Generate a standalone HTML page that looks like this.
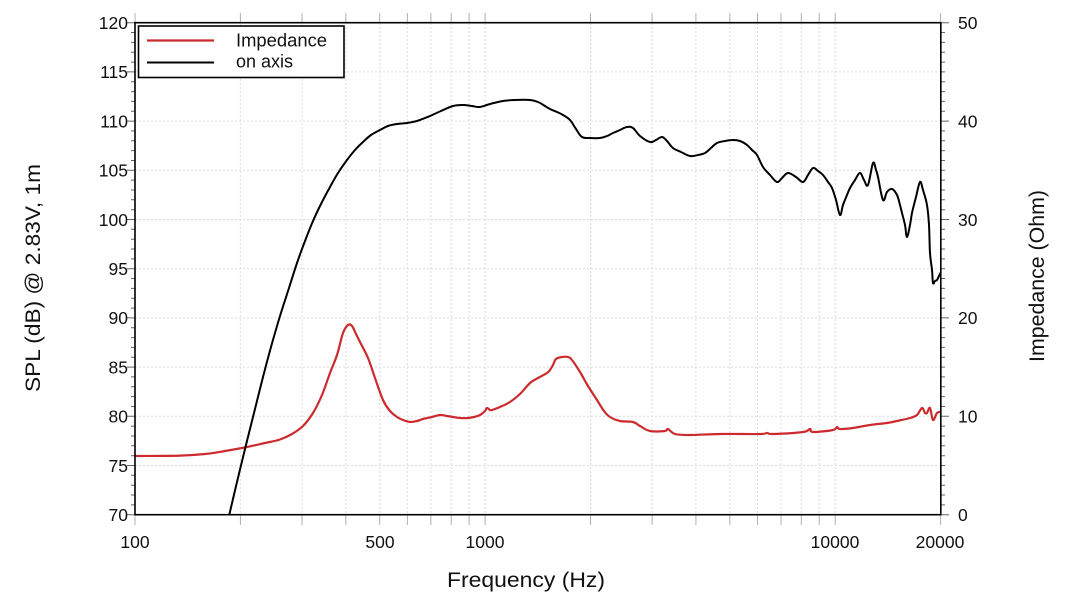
<!DOCTYPE html>
<html>
<head>
<meta charset="utf-8">
<style>
  html,body{margin:0;padding:0;background:#fff;}
  svg{display:block;}
  text{font-family:"Liberation Sans","DejaVu Sans",sans-serif;fill:#111;}
</style>
</head>
<body>
<svg id="chart" width="1070" height="605" viewBox="0 0 1070 605" xmlns="http://www.w3.org/2000/svg">
  <rect x="0" y="0" width="1070" height="605" fill="#fff"/>

  <!-- vertical grid -->
  <g stroke="#dcdcdc" stroke-width="1" stroke-dasharray="2,2">
    <line x1="240.4" y1="23" x2="240.4" y2="515"/>
    <line x1="302.0" y1="23" x2="302.0" y2="515"/>
    <line x1="345.8" y1="23" x2="345.8" y2="515"/>
    <line x1="379.7" y1="23" x2="379.7" y2="515"/>
    <line x1="407.4" y1="23" x2="407.4" y2="515"/>
    <line x1="430.9" y1="23" x2="430.9" y2="515"/>
    <line x1="451.2" y1="23" x2="451.2" y2="515"/>
    <line x1="469.1" y1="23" x2="469.1" y2="515"/>
    <line x1="485.1" y1="23" x2="485.1" y2="515"/>
    <line x1="590.5" y1="23" x2="590.5" y2="515"/>
    <line x1="652.1" y1="23" x2="652.1" y2="515"/>
    <line x1="695.9" y1="23" x2="695.9" y2="515"/>
    <line x1="729.8" y1="23" x2="729.8" y2="515"/>
    <line x1="757.5" y1="23" x2="757.5" y2="515"/>
    <line x1="781.0" y1="23" x2="781.0" y2="515"/>
    <line x1="801.3" y1="23" x2="801.3" y2="515"/>
    <line x1="819.2" y1="23" x2="819.2" y2="515"/>
    <line x1="835.2" y1="23" x2="835.2" y2="515"/>
  </g>
  <!-- horizontal grid -->
  <g stroke="#dcdcdc" stroke-width="1" stroke-dasharray="2,2">
    <line x1="135" y1="71.9" x2="941" y2="71.9"/>
    <line x1="135" y1="121.1" x2="941" y2="121.1"/>
    <line x1="135" y1="170.3" x2="941" y2="170.3"/>
    <line x1="135" y1="219.5" x2="941" y2="219.5"/>
    <line x1="135" y1="268.7" x2="941" y2="268.7"/>
    <line x1="135" y1="317.9" x2="941" y2="317.9"/>
    <line x1="135" y1="367.1" x2="941" y2="367.1"/>
    <line x1="135" y1="416.3" x2="941" y2="416.3"/>
    <line x1="135" y1="465.5" x2="941" y2="465.5"/>
  </g>

  <!-- x ticks outside (bottom & top) -->
  <g stroke="#b0b0b0" stroke-width="1">
    <path d="M135,515v10 M240.4,515v10 M302,515v10 M345.8,515v10 M379.7,515v10 M407.4,515v10 M430.9,515v10 M451.2,515v10 M469.1,515v10 M485.1,515v10 M590.5,515v10 M652.1,515v10 M695.9,515v10 M729.8,515v10 M757.5,515v10 M781,515v10 M801.3,515v10 M819.2,515v10 M835.2,515v10 M940.6,515v10"/>
    <path d="M135,13v10 M240.4,13v10 M302,13v10 M345.8,13v10 M379.7,13v10 M407.4,13v10 M430.9,13v10 M451.2,13v10 M469.1,13v10 M485.1,13v10 M590.5,13v10 M652.1,13v10 M695.9,13v10 M729.8,13v10 M757.5,13v10 M781,13v10 M801.3,13v10 M819.2,13v10 M835.2,13v10 M940.6,13v10"/>
  </g>

  <!-- left axis ticks -->
  <g stroke="#666" stroke-width="1">
    <path d="M127,22.7h8 M127,71.9h8 M127,121.1h8 M127,170.3h8 M127,219.5h8 M127,268.7h8 M127,317.9h8 M127,367.1h8 M127,416.3h8 M127,465.5h8 M127,514.7h8"/>
    <path d="M131,32.5h4 M131,42.4h4 M131,52.2h4 M131,62.1h4 M131,81.7h4 M131,91.6h4 M131,101.4h4 M131,111.3h4 M131,130.9h4 M131,140.8h4 M131,150.6h4 M131,160.5h4 M131,180.1h4 M131,190.0h4 M131,199.8h4 M131,209.7h4 M131,229.3h4 M131,239.2h4 M131,249.0h4 M131,258.9h4 M131,278.5h4 M131,288.4h4 M131,298.2h4 M131,308.1h4 M131,327.7h4 M131,337.6h4 M131,347.4h4 M131,357.3h4 M131,376.9h4 M131,386.8h4 M131,396.6h4 M131,406.5h4 M131,426.1h4 M131,436.0h4 M131,445.8h4 M131,455.7h4 M131,475.3h4 M131,485.2h4 M131,495.0h4 M131,504.9h4"/>
  </g>
  <!-- right axis ticks -->
  <g stroke="#666" stroke-width="1">
    <path d="M941,22.7h8 M941,121.1h8 M941,219.5h8 M941,317.9h8 M941,416.3h8 M941,514.7h8"/>
    <path d="M941,32.5h4 M941,42.4h4 M941,52.2h4 M941,62.1h4 M941,71.9h4 M941,81.7h4 M941,91.6h4 M941,101.4h4 M941,111.3h4 M941,130.9h4 M941,140.8h4 M941,150.6h4 M941,160.5h4 M941,170.3h4 M941,180.1h4 M941,190.0h4 M941,199.8h4 M941,209.7h4 M941,229.3h4 M941,239.2h4 M941,249.0h4 M941,258.9h4 M941,268.7h4 M941,278.5h4 M941,288.4h4 M941,298.2h4 M941,308.1h4 M941,327.7h4 M941,337.6h4 M941,347.4h4 M941,357.3h4 M941,367.1h4 M941,376.9h4 M941,386.8h4 M941,396.6h4 M941,406.5h4 M941,426.1h4 M941,436.0h4 M941,445.8h4 M941,455.7h4 M941,465.5h4 M941,475.3h4 M941,485.2h4 M941,495.0h4 M941,504.9h4"/>
  </g>

  <!-- data -->
  <defs><clipPath id="pc"><rect x="135" y="22.7" width="806" height="492.5"/></clipPath></defs>
  <g id="series" clip-path="url(#pc)" fill="none" stroke-linejoin="round" stroke-linecap="round">
    <polyline class="sm" stroke="#cc2a2e" stroke-width="2.2" points="135,456 180,455.6 205,454 225,451 247,447 265,443 280,439.5 292,434 303,426 313,413 322,395 330,373 337,355 343,333 348,325 352,326 356,334 360,342 368,358 375,378 383,400 390,411 397,417 403,420 410,422 417,421 423,419 432,417 440,415 447,416 453,417 460,418 468,418 474,417 480,415 485,411 487,408 490,410 492,410 500,407 510,402 520,394 530,383 538,378 547,373 550,370 553,365 556,359 562,357 568,357 572,360 580,372 588,386 597,400 604,411 610,417 620,421 633,422 640,426 650,431 665,431 668,429 675,434 690,435 720,434 760,434 767,433 773,434 803,432 810,429 813,432 833,430 837,427 840,429 853,428 870,425 887,423 897,421 910,418 917,415 922,408 925,413 927,413 930,408 933,420 937,413 941,412"/>
    <polyline class="sm" stroke="#000" stroke-width="2" points="229,516 237,482 245,449 254,413 263,377 271,347 280,316 289,288 297,263 305,241 313,221 321,204 330,187 338,173 347,160 355,150 363,142 371,135 380,130 388,126 397,124 407,123 417,121 425,118 430,116 441,111 453,106 463,105 472,106 480,107 490,104 503,101 515,100 530,100 538,102 545,106 550,109 557,112 563,115 570,120 576,129 582,137 590,138 600,138 607,136 613,133 620,130 627,127 633,128 640,136 650,142 656,140 662,137 667,141 673,148 681,152 690,156 698,155 705,153 711,148 717,143 725,141 733,140 740,141 747,145 752,150 757,155 763,167 770,175 777,182 782,178 788,173 796,177 803,182 808,175 813,168 818,171 823,175 828,182 832,188 836,200 840,215 843,205 847,195 850,188 855,180 860,173 864,180 868,185 873,163 876,170 878,177 883,200 887,192 892,189 897,195 900,205 902,213 905,225 907,237 910,225 912,213 916,197 920,182 923,190 927,205 929,225 930,253 932,270 933,283 935,281 937,280 939,276 941,272"/>
  </g>

  <!-- frame -->
  <rect x="135" y="22.7" width="805.8" height="492" fill="none" stroke="#000" stroke-width="1.6"/>

  <!-- legend -->
  <rect x="138.5" y="26" width="205.5" height="51.5" fill="#fff" stroke="#000" stroke-width="1.6"/>
  <line x1="147" y1="40.5" x2="214" y2="40.5" stroke="#cc2a2e" stroke-width="2.2"/>
  <line x1="147" y1="62.5" x2="214" y2="62.5" stroke="#000" stroke-width="2"/>
  <text x="236" y="46.5" font-size="18" textLength="91" lengthAdjust="spacingAndGlyphs">Impedance</text>
  <text x="236" y="67.5" font-size="18">on axis</text>

  <!-- left tick labels -->
  <g font-size="17.5" text-anchor="end">
    <text x="128" y="29">120</text>
    <text x="128" y="78.2">115</text>
    <text x="128" y="127.4">110</text>
    <text x="128" y="176.6">105</text>
    <text x="128" y="225.8">100</text>
    <text x="128" y="275">95</text>
    <text x="128" y="324.2">90</text>
    <text x="128" y="373.4">85</text>
    <text x="128" y="422.6">80</text>
    <text x="128" y="471.8">75</text>
    <text x="128" y="521">70</text>
  </g>
  <!-- right tick labels -->
  <g font-size="17.5" text-anchor="start">
    <text x="958" y="29">50</text>
    <text x="958" y="127.4">40</text>
    <text x="958" y="225.8">30</text>
    <text x="958" y="324.2">20</text>
    <text x="958" y="422.6">10</text>
    <text x="958" y="521">0</text>
  </g>
  <!-- x tick labels -->
  <g font-size="17.5" text-anchor="middle">
    <text x="135" y="548">100</text>
    <text x="380" y="548">500</text>
    <text x="485" y="548">1000</text>
    <text x="835" y="548">10000</text>
    <text x="940" y="548">20000</text>
  </g>

  <!-- axis titles -->
  <text x="526" y="587" font-size="21" text-anchor="middle" textLength="158" lengthAdjust="spacingAndGlyphs">Frequency (Hz)</text>
  <text transform="translate(40,278) rotate(-90)" font-size="21" text-anchor="middle" textLength="228" lengthAdjust="spacingAndGlyphs">SPL (dB) @ 2.83V, 1m</text>
  <text transform="translate(1044,276) rotate(-90)" font-size="21" text-anchor="middle" textLength="172" lengthAdjust="spacingAndGlyphs">Impedance (Ohm)</text>
</svg>
<script>
(function(){
  try{
    var NS="http://www.w3.org/2000/svg";
    var pls=document.querySelectorAll("polyline.sm");
    for(var i=0;i<pls.length;i++){
      var pl=pls[i];
      var pts=pl.getAttribute("points").trim().split(/\s+/).map(function(s){var a=s.split(",");return [parseFloat(a[0]),parseFloat(a[1])];});
      if(pts.length<3) continue;
      var d="M"+pts[0][0]+","+pts[0][1];
      for(var k=0;k<pts.length-1;k++){
        var p0=pts[k>0?k-1:0],p1=pts[k],p2=pts[k+1],p3=pts[k+2<pts.length?k+2:k+1];
        var t=0.18;
        var c1x=p1[0]+(p2[0]-p0[0])*t, c1y=p1[1]+(p2[1]-p0[1])*t;
        var c2x=p2[0]-(p3[0]-p1[0])*t, c2y=p2[1]-(p3[1]-p1[1])*t;
        d+=" C"+c1x.toFixed(2)+","+c1y.toFixed(2)+" "+c2x.toFixed(2)+","+c2y.toFixed(2)+" "+p2[0]+","+p2[1];
      }
      var path=document.createElementNS(NS,"path");
      path.setAttribute("d",d);
      path.setAttribute("stroke",pl.getAttribute("stroke"));
      path.setAttribute("stroke-width",pl.getAttribute("stroke-width"));
      path.setAttribute("fill","none");
      pl.parentNode.replaceChild(path,pl);
    }
  }catch(e){}
})();
</script>
</body>
</html>
